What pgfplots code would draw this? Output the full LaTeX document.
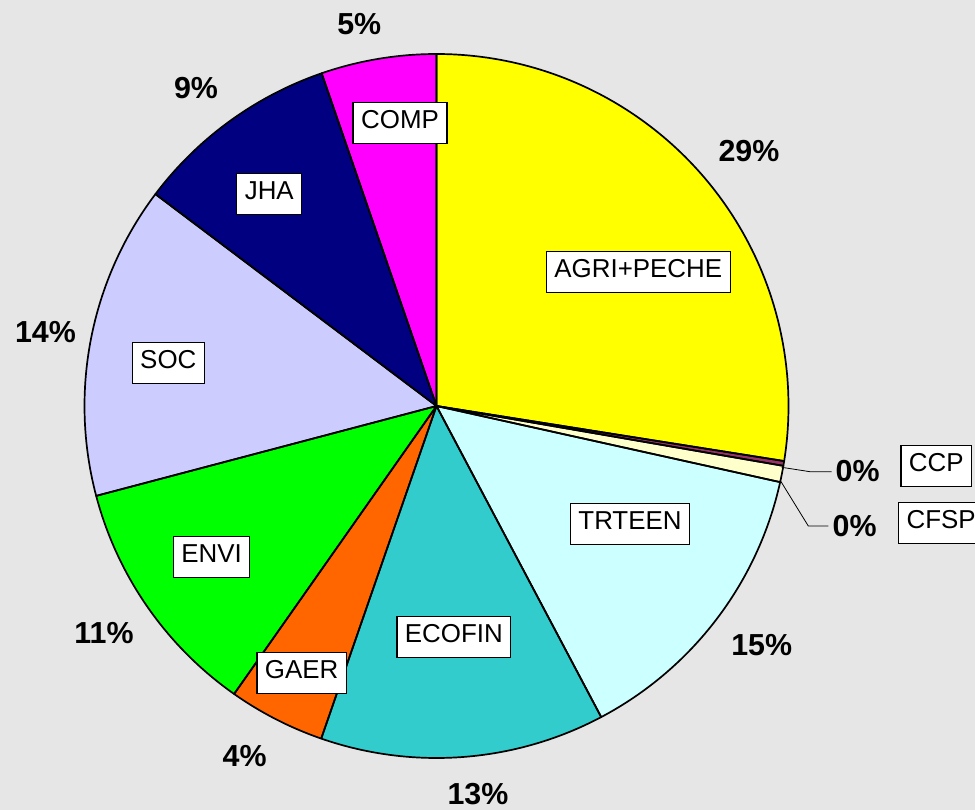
\documentclass[border=0pt]{standalone}
\usepackage{pgfplots}
\pgfplotsset{compat=1.18}
\usepackage{pgfplotstable}
\usepackage{fontspec}
\setmainfont{Liberation Sans}

\definecolor{bg}{RGB}{230,230,230}
\definecolor{cAGRI}{RGB}{255,255,0}
\definecolor{cCCP}{RGB}{153,51,102}
\definecolor{cCFSP}{RGB}{255,255,204}
\definecolor{cTRTEEN}{RGB}{204,255,255}
\definecolor{cECOFIN}{RGB}{51,204,204}
\definecolor{cGAER}{RGB}{255,102,0}
\definecolor{cENVI}{RGB}{0,255,0}
\definecolor{cSOC}{RGB}{204,204,255}
\definecolor{cJHA}{RGB}{0,0,128}
\definecolor{cCOMP}{RGB}{255,0,255}

% slice sizes (percent of the circle), clockwise from 12 o'clock
\pgfplotstableread{
name   pct   col
AGRI   27.50 cAGRI
CCP    0.22  cCCP
CFSP   0.75  cCFSP
TRTEEN 13.78 cTRTEEN
ECOFIN 13.06 cECOFIN
GAER   4.44  cGAER
ENVI   11.14 cENVI
SOC    14.39 cSOC
JHA    9.43  cJHA
COMP   5.29  cCOMP
}\piedata

\newcommand\pctfont{\fontsize{30.5}{36}\selectfont\bfseries}
\newcommand\catfont{\fontsize{26}{31}\selectfont}
\tikzset{catbox/.style={draw=black, fill=white, line width=1.3bp, font=\catfont,
  text height=18.2bp, text depth=7.3bp, inner ysep=7.75bp, inner xsep=8bp},
  pct/.style={font=\pctfont, anchor=base, inner sep=0pt}}

\begin{document}
\begin{tikzpicture}
\begin{axis}[x=1bp, y=1bp, xmin=0, xmax=975, ymin=0, ymax=810,
  hide axis, anchor=origin, at={(0,0)}, clip=true]
\fill[bg] (axis cs:0,0) rectangle (axis cs:975,810);
% fills
\def\startang{90}
\pgfplotsforeachungrouped \i in {0,...,9}{%
  \pgfplotstablegetelem{\i}{pct}\of\piedata \let\pct\pgfplotsretval
  \pgfplotstablegetelem{\i}{col}\of\piedata \let\col\pgfplotsretval
  \pgfmathsetmacro\endang{\startang-3.6*\pct}%
  \edef\cmd{\noexpand\fill[\col] (axis cs:436.5,404) -- ++(\startang:352bp) arc[start angle=\startang, end angle=\endang, radius=352bp] -- cycle;}%
  \cmd
  \let\startang\endang
}
% outlines
\def\startang{90}
\pgfplotsforeachungrouped \i in {0,...,9}{%
  \pgfplotstablegetelem{\i}{pct}\of\piedata \let\pct\pgfplotsretval
  \pgfmathsetmacro\endang{\startang-3.6*\pct}%
  \edef\cmd{\noexpand\draw[black, line width=1.7bp, line join=round] (axis cs:436.5,404) -- ++(\startang:352bp) arc[start angle=\startang, end angle=\endang, radius=352bp] -- cycle;}%
  \cmd
  \let\startang\endang
}
% leader lines
\draw[black, line width=0.8bp] (axis cs:781.7,342.7) -- (axis cs:810,338.3) -- (axis cs:831.7,338.3);
\draw[black, line width=0.8bp] (axis cs:780,330) -- (axis cs:808.3,284) -- (axis cs:828.3,284);
% percentage labels
\node[pct] at (axis cs:749,648.3) {29\%};
\node[pct] at (axis cs:857.7,328.3) {0\%};
\node[pct] at (axis cs:854.7,274) {0\%};
\node[pct] at (axis cs:761.7,155) {15\%};
\node[pct] at (axis cs:478,6) {13\%};
\node[pct] at (axis cs:244.7,44) {4\%};
\node[pct] at (axis cs:104,166.7) {11\%};
\node[pct] at (axis cs:45.5,467.3) {14\%};
\node[pct] at (axis cs:196,711.8) {9\%};
\node[pct] at (axis cs:359.3,775.7) {5\%};
% category labels
\node[catbox] at (axis cs:638.3,537.8) {AGRI+PECHE};
\node[catbox] at (axis cs:400,686.8) {COMP};
\node[catbox] at (axis cs:269.3,616.3) {JHA};
\node[catbox] at (axis cs:168.3,447) {SOC};
\node[catbox] at (axis cs:211.5,253) {ENVI};
\node[catbox] at (axis cs:301.7,137.2) {GAER};
\node[catbox] at (axis cs:453.8,172.8) {ECOFIN};
\node[catbox] at (axis cs:630,286.2) {TRTEEN};
\node[catbox] at (axis cs:936.3,344) {CCP};
\node[catbox, anchor=west] at (axis cs:898,287) {CFSP};
\end{axis}
\pgfresetboundingbox
\path[use as bounding box] (0,0) rectangle (975bp,810bp);
\end{tikzpicture}
\end{document}
